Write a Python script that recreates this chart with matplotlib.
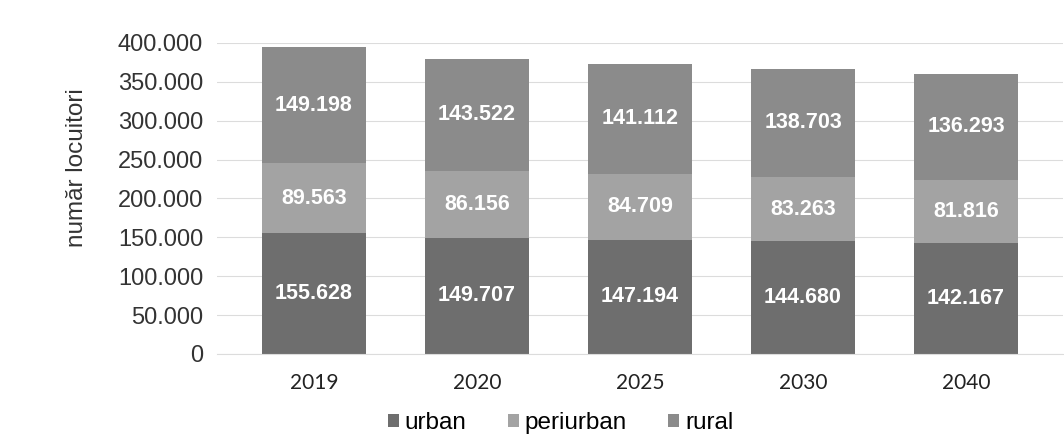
import matplotlib
matplotlib.use("Agg")
import matplotlib.pyplot as plt
from matplotlib.ticker import FuncFormatter
import numpy as np

years = ["2019", "2020", "2025", "2030", "2040"]
urban = [155628, 149707, 147194, 144680, 142167]
periurban = [89563, 86156, 84709, 83263, 81816]
rural = [149198, 143522, 141112, 138703, 136293]
series_names = ["urban", "periurban", "rural"]
colors = ["#6e6e6e", "#a3a3a3", "#8b8b8b"]

def fmt(v):
    return f"{int(v):,}".replace(",", ".")

fig = plt.figure(figsize=(10.64, 4.43), dpi=100)
ax = fig.add_axes([217 / 1064, 0.201, 846 / 1064, 0.702])

x = np.arange(len(years))
bottom = np.zeros(len(years))
handles = []
for name, vals, c in zip(series_names, [urban, periurban, rural], colors):
    vals = np.array(vals, dtype=float)
    bars = ax.bar(x, vals, bottom=bottom, width=0.64, color=c, label=name, zorder=2)
    handles.append(bars)
    for xi, b, v in zip(x, bottom, vals):
        ax.text(xi, b + v / 2, fmt(v), ha="center", va="center", color="white",
                fontsize=15.5, fontweight="bold",
                family=["Liberation Sans Narrow", "Liberation Sans", "DejaVu Sans"], zorder=3)
    bottom += vals

ax.set_ylim(0, 400000)
ax.set_xlim(-0.595, len(years) - 1 + 0.595)
ax.set_yticks(np.arange(0, 400001, 50000))
ax.yaxis.set_major_formatter(FuncFormatter(lambda v, p: fmt(v)))
ax.set_xticks(x)
ax.set_xticklabels(years, family=["Lato", "DejaVu Sans"], fontsize=15, color="#222222")
for lab in ax.get_yticklabels():
    lab.set_family(["Liberation Sans", "DejaVu Sans"])
    lab.set_fontsize(17)
    lab.set_color("#333333")
ax.tick_params(axis="both", length=0)
ax.tick_params(axis="y", pad=10)
ax.tick_params(axis="x", pad=14)
ax.grid(axis="y", color="#dcdcdc", linewidth=0.8, zorder=0)
for s in ["top", "right", "left"]:
    ax.spines[s].set_visible(False)
ax.spines["bottom"].set_color("#dcdcdc")
ax.set_ylabel("număr locuitori", family=["Liberation Sans", "DejaVu Sans"],
              fontsize=17.5, color="#333333")
ax.yaxis.set_label_coords(-0.152, 0.60)

fig.legend(handles=handles, labels=series_names, loc="center", bbox_to_anchor=(0.527, 0.045),
           ncol=3, frameon=False, handlelength=0.45, handleheight=0.45, handletextpad=0.25,
           columnspacing=1.7, prop={"family": ["Liberation Sans", "DejaVu Sans"], "size": 17.5})

fig.savefig("out.png", dpi=100, facecolor="white")
